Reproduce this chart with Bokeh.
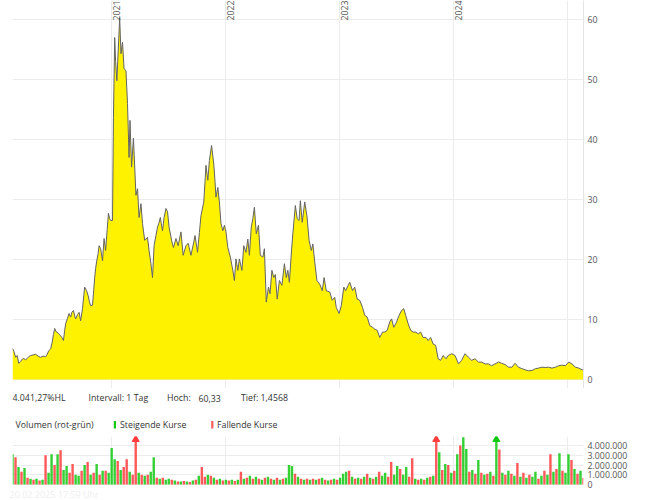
import numpy as np
import pandas as pd
from bokeh.plotting import figure
from bokeh.models import Range1d, FixedTicker, Span, Title
from bokeh.layouts import column
from bokeh.embed import file_html
from bokeh.resources import INLINE
from bokeh.core.properties import value

# ---------------- data ----------------
start_date = "2020-02-20"

price_day = [0,5,10,15,20,26,31,36,42,47,
             52,58,66,74,82,90,98,106,111,116,
             122,127,131,135,139,143,148,154,158,163,
             167,170,176,181,186,190,195,199,202,208,
             213,218,224,228,231,237,242,246,250,256,
             260,263,266,269,274,277,282,288,293,298,
             303,307,311,314,320,323,327,330,334,338,
             343,347,352,357,363,368,373,376,381,387,
             395,400,405,411,416,423,432,437,443,448,
             453,459,464,468,473,476,480,485,491,496,
             501,509,515,523,530,539,546,555,562,571,
             580,584,592,598,603,612,616,619,625,630,
             637,644,648,651,657,662,667,673,678,683,
             689,697,705,710,715,721,726,734,740,747,
             753,758,764,769,774,780,787,793,801,806,
             812,819,824,830,836,841,847,854,862,870,
             876,881,886,892,897,905,911,917,921,927,
             935,942,949,956,961,967,974,983,991,997,
             1004,1015,1023,1031,1036,1045,1052,1060,1066,1074,
             1079,1088,1095,1103,1111,1120,1127,1135,1143,1152,
             1159,1167,1175,1184,1191,1199,1207,1213,1220,1229,
             1237,1245,1252,1258,1266,1274,1282,1291,1298,1306,
             1314,1323,1330,1338,1346,1354,1362,1370,1378,1387,
             1394,1405,1416,1427,1437,1448,1459,1469,1480,1491,
             1501,1512,1523,1533,1544,1555,1565,1576,1587,1598,
             1608,1619,1630,1641,1651,1662,1673,1683,1694,1705,
             1715,1726,1737,1748,1758,1769,1780,1790,1801,1812,
             1823,1827]

price_close = [5.2,4.6,3.7,4.0,2.7,3.0,3.4,3.5,3.3,3.5,
               3.8,4.0,4.1,4.2,3.9,3.7,3.9,3.8,4.2,4.8,
               5.1,6.2,7.5,8.5,8.0,7.9,7.6,7.3,7.0,6.5,
               8.2,9.3,10.2,11.0,10.4,11.2,11.5,10.6,10.1,10.8,
               11.2,9.8,11.8,14.0,15.4,14.8,14.0,13.0,12.3,12.4,
               15.0,17.0,18.5,19.6,21.0,22.3,21.8,19.8,23.5,21.5,
               25.0,27.7,26.8,26.5,26.5,43.7,57.0,53.0,49.8,54.6,
               60.3,54.3,56.2,51.8,51.5,46.0,37.0,43.2,35.4,40.2,
               30.7,31.8,27.0,29.3,26.0,23.2,23.7,21.5,19.3,17.0,
               22.3,24.0,25.4,26.0,27.0,26.0,24.8,27.0,28.5,28.0,
               25.4,23.2,22.0,23.5,22.3,24.6,20.7,22.3,22.7,20.7,
               22.9,24.0,21.2,24.5,27.3,29.6,33.0,35.7,33.2,36.5,
               39.0,35.9,33.0,30.4,32.0,29.6,26.0,24.8,25.7,24.6,
               22.0,20.4,18.2,16.5,20.1,18.2,20.1,18.2,22.3,21.2,
               23.4,20.7,25.4,26.8,28.7,24.3,25.7,20.7,20.4,21.8,
               12.9,15.4,14.3,18.2,17.0,17.5,13.4,16.5,15.7,19.3,
               17.0,18.2,16.2,20.9,24.3,29.0,26.8,26.5,29.8,26.2,
               29.6,27.3,23.2,21.5,22.6,19.6,16.5,15.9,14.8,17.0,
               14.8,14.6,13.2,13.7,12.0,11.0,12.3,15.4,14.8,15.7,
               16.2,14.8,15.4,13.4,13.2,12.0,10.7,10.4,9.0,8.7,
               8.4,8.2,7.0,7.9,7.9,8.2,9.6,10.1,8.7,9.6,
               10.7,11.5,11.8,10.7,9.3,8.2,7.9,7.9,7.6,7.9,
               7.0,7.0,6.5,7.0,5.9,5.7,3.45,3.2,4.0,3.45,
               4.0,4.3,4.0,2.6,3.2,4.3,3.7,3.2,3.45,2.9,
               2.9,2.6,2.6,2.3,2.6,2.9,2.7,2.5,2.05,2.05,
               2.7,2.05,1.8,1.6,1.46,1.5,1.8,1.9,2.05,2.0,
               2.05,1.9,2.05,2.3,2.4,2.3,2.9,2.6,2.05,1.9,
               1.6,1.7]

volume_mio = [3.1,2.8,1.8,1.3,1.7,0.7,0.6,0.5,0.6,0.4,
              0.5,3.0,1.2,3.1,2.0,3.1,3.5,1.5,1.9,1.2,
              2.1,1.0,0.9,1.4,2.0,2.3,1.0,1.2,2.1,1.0,
              1.4,1.4,1.2,3.75,2.6,2.4,1.5,1.8,2.6,1.3,
              1.0,5.5,1.2,1.0,0.9,1.0,1.3,2.8,0.7,0.6,
              0.7,0.5,0.6,0.5,0.4,0.3,0.3,0.35,0.3,0.25,
              0.4,0.5,0.9,1.8,0.8,1.0,0.9,0.7,0.5,0.6,
              0.4,0.5,0.4,0.5,0.35,0.5,1.3,0.6,0.7,0.9,
              0.6,0.8,0.6,0.5,0.7,0.8,0.6,0.5,0.7,0.5,
              0.6,0.7,2.0,1.9,1.1,0.8,0.6,0.5,0.6,0.5,
              0.6,0.5,0.6,0.7,0.5,0.4,0.5,0.6,0.5,0.7,
              1.1,1.3,1.4,0.8,0.6,0.7,0.6,0.8,1.1,0.7,
              0.6,0.8,1.3,0.9,1.2,0.8,2.3,1.0,1.9,1.6,
              1.0,1.8,0.8,2.7,0.6,0.5,0.6,0.5,0.7,0.8,
              0.9,5.5,3.3,1.5,2.1,2.0,1.2,1.4,3.1,4.0,
              4.85,3.65,1.3,1.5,1.1,2.5,1.2,1.0,1.1,1.3,
              0.9,5.5,3.6,1.2,1.0,1.4,1.1,0.9,2.2,0.8,
              1.2,0.7,1.0,0.8,1.3,0.6,0.9,1.4,1.0,3.1,
              1.3,1.6,3.2,1.4,1.2,3.1,2.5,1.6,1.1,1.4,
              0.7]

# G = steigend (green), R = fallend (red)
volume_dir = ("GRGRGRGRGR" "GRGGRGRGGR" "RGGRGRGRGR" "GRGGGRGRRG" "RRGRGRGGRG"
              "RGGRGRGRGR" "GRGRRGRGRG" "RGRGRGRGRG" "RGRGRGRGRG" "RGGGRGRGRG"
              "RGRGRGRGRG" "GGRGRGRGRG" "RGRGGRRGGR" "GGRRGRGRGR" "GRGRGRGRGR"
              "GGRGRGRGRG" "RGRGRGRGRG" "RGRGGRGRGR" "GRGRGGRGRG" "R")

year_grid = [2021, 2022, 2023, 2024, 2025]
year_labels = [2021, 2022, 2023, 2024]
price_ticks = [0, 10, 20, 30, 40, 50, 60]
volume_ticks = [0, 1000000, 2000000, 3000000, 4000000]
volume_labels = ["0", "1.000.000", "2.000.000", "3.000.000", "4.000.000"]

info_texts = ["4.041,27%HL", "Intervall: 1 Tag", "Hoch:", "60,33", "Tief: 1,4568"]
legend_texts = ["Volumen (rot-grün)", "Steigende Kurse", "Fallende Kurse"]
footer_text = "20.02.2025 17:59 Uhr"

# ---------------- derived ----------------
FONT = "Open Sans"
FS = "8.8px"
GREEN = "#11c811"
RED = "#ff3c3c"
GRID = "#ececec"
AXC = "#555555"
TXT = "#333333"

t0 = pd.Timestamp(start_date)
n = min(len(price_day), len(price_close))
px = [t0 + pd.Timedelta(days=d) for d in price_day[:n]]
pc = price_close[:n]
t_end = px[-1]
nv = min(len(volume_mio), len(volume_dir))
vx = pd.date_range(t0, t_end, periods=nv)
vol = np.array(volume_mio[:nv]) * 1e6
vcol = [GREEN if c == "G" else RED for c in volume_dir[:nv]]
step_ms = (vx[1] - vx[0]).total_seconds() * 1000.0

grid_ms = [pd.Timestamp(f"{y}-01-01").value / 1e6 for y in year_grid]
label_dates = [pd.Timestamp(f"{y}-01-01") for y in year_labels]

xr = Range1d(t0.to_pydatetime(), t_end.to_pydatetime())

W = 669
LB, RB = 12, 86

# ---------------- price panel ----------------
p_ymin, p_ymax = -1.5, 63.17
p = figure(width=W, height=388, x_axis_type="datetime", x_axis_location=None,
           y_axis_location="right", x_range=xr, y_range=Range1d(p_ymin, p_ymax),
           output_backend="svg", toolbar_location=None,
           min_border_left=LB, min_border_right=RB, min_border_top=0, min_border_bottom=0)
p.outline_line_color = None
p.xgrid.ticker = FixedTicker(ticks=grid_ms)
p.xgrid.grid_line_color = GRID
p.ygrid.grid_line_color = GRID
p.yaxis.ticker = FixedTicker(ticks=price_ticks)
p.yaxis.axis_line_color = "#e4e4e4"
p.yaxis.major_tick_line_color = None
p.yaxis.minor_tick_line_color = None
p.yaxis.major_tick_out = 0
p.yaxis.major_label_standoff = 4
p.yaxis.major_label_text_font = FONT
p.yaxis.major_label_text_font_size = FS
p.yaxis.major_label_text_color = AXC

p.varea(x=px, y1=0, y2=pc, fill_color="#fff200")
p.line(x=px, y=pc, line_color="#636363", line_width=1)
p.add_layout(Span(location=p_ymin, dimension="width", line_color="#e4e4e4", line_width=1))

p.text(x=label_dates, y=[p_ymax] * len(label_dates), text=[str(y) for y in year_labels],
       angle=np.pi / 2, text_align="right", text_baseline="top", x_offset=2, y_offset=0,
       text_font=value(FONT), text_font_size=FS, text_color=AXC)

# ---------------- info / legend rows (frame is aligned with the panels above) ----------------
info = figure(width=W, height=48, x_range=Range1d(LB, W - RB), y_range=Range1d(48, 0),
              x_axis_location=None, y_axis_location=None, output_backend="svg",
              toolbar_location=None, min_border_left=LB, min_border_right=RB,
              min_border_top=0, min_border_bottom=0)
info.outline_line_color = None
info.grid.visible = False
info.text(x=[12, 88, 166.5, 198, 240.5], y=[9.5] * 5, text=info_texts,
          text_align="left", text_baseline="middle", text_font=value(FONT),
          text_font_size=FS, text_color=TXT)
info.text(x=[15, 119.5, 216.5], y=[36] * 3, text=legend_texts,
          text_align="left", text_baseline="middle", text_font=value(FONT),
          text_font_size=FS, text_color=TXT)
info.quad(left=[113.3, 210.7], right=[115.5, 212.9], top=[32.5, 32.5], bottom=[40, 40],
          fill_color=[GREEN, "#ff5a5a"], line_color=None)

# ---------------- volume panel ----------------
v_ymin, v_ymax = -0.1e6, 4.92e6
v = figure(width=W, height=64, x_axis_type="datetime", x_axis_location=None,
           y_axis_location="right", x_range=xr, y_range=Range1d(v_ymin, v_ymax),
           output_backend="svg", toolbar_location=None,
           min_border_left=LB, min_border_right=RB, min_border_top=0, min_border_bottom=15)
v.outline_line_color = None
v.xgrid.ticker = FixedTicker(ticks=grid_ms)
v.xgrid.grid_line_color = GRID
v.ygrid.grid_line_color = GRID
v.yaxis.ticker = FixedTicker(ticks=volume_ticks)
v.yaxis.major_label_overrides = {t: l for t, l in zip(volume_ticks, volume_labels)}
v.yaxis.axis_line_color = None
v.yaxis.major_tick_line_color = None
v.yaxis.minor_tick_line_color = None
v.yaxis.major_tick_out = 0
v.yaxis.major_label_standoff = 4
v.yaxis.major_label_text_font = FONT
v.yaxis.major_label_text_font_size = FS
v.yaxis.major_label_text_color = AXC

v.vbar(x=vx, top=vol, bottom=0, width=step_ms * 0.8, fill_color=vcol,
       line_color=None, fill_alpha=0.85)
clip = vol > v_ymax
if clip.any():
    cx = [vx[i] for i in range(nv) if clip[i]]
    cc = [vcol[i] for i in range(nv) if clip[i]]
    v.scatter(x=cx, y=[v_ymax - 0.3e6] * len(cx), marker="triangle", size=7,
              fill_color=cc, line_color=cc)

v.add_layout(Title(text=footer_text, align="left", text_font=FONT, text_font_size="9px",
                   text_color="#eeeeee", text_font_style="normal", standoff=0, offset=-3),
             "below")

layout = column(p, info, v)

open("out.html", "w").write(file_html(layout, INLINE))
